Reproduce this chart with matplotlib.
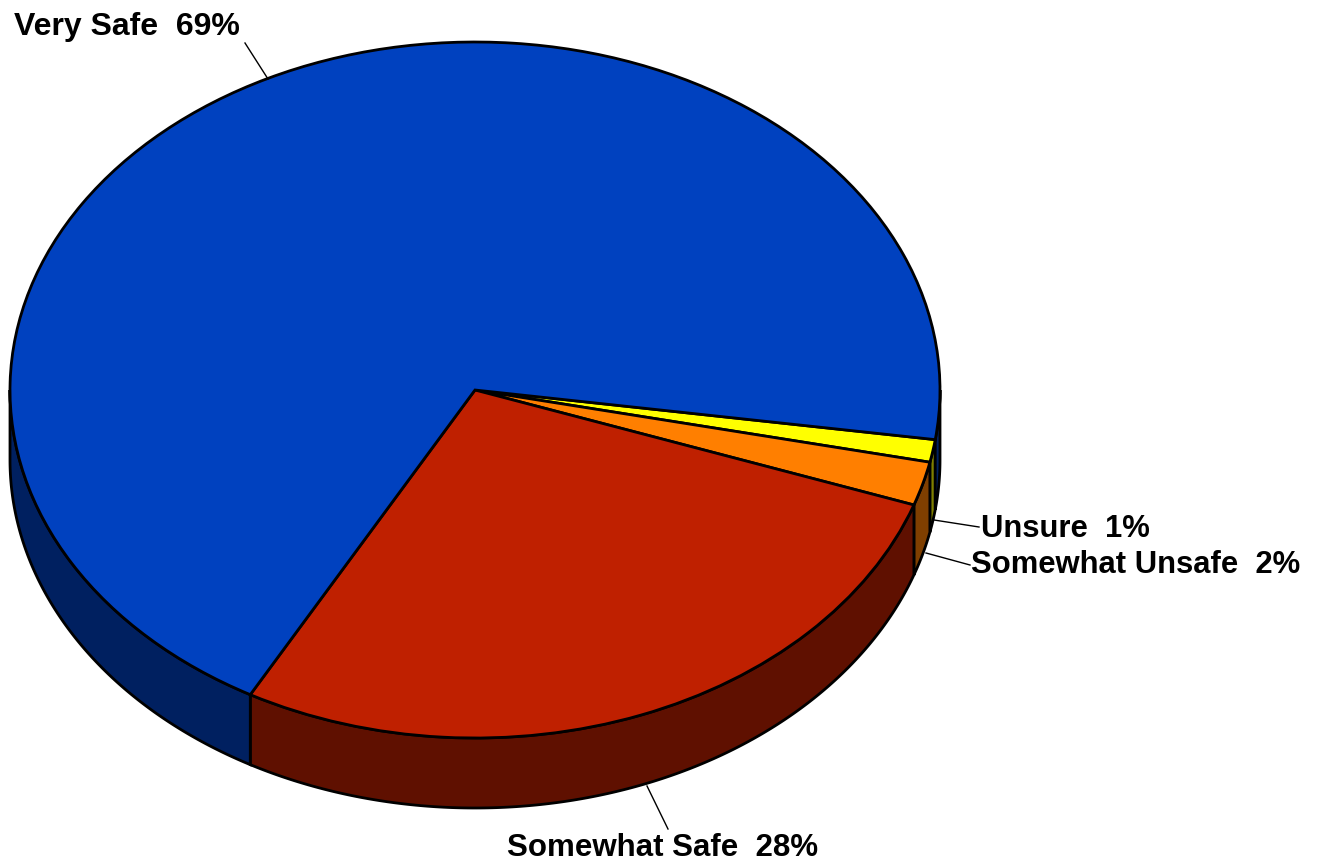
import numpy as np
import matplotlib
matplotlib.use("Agg")
import matplotlib.pyplot as plt
from matplotlib.patches import Polygon

categories = ["Unsure", "Somewhat Unsafe", "Somewhat Safe", "Very Safe"]
values = [1.05, 2.03, 27.67, 69.25]
top_colors = ["#FFFF00", "#FF7F00", "#BF2000", "#0041BF"]
side_colors = ["#7F7F00", "#7F3F00", "#5F1000", "#002060"]

W, H = 1317, 861
CX, CY, RX, RY, DEPTH = 475, 390, 465, 348, 70
START = -8.2
SY = RX / RY  # data units per pixel, vertically

fig = plt.figure(figsize=(W / 100, H / 100), dpi=100, facecolor="white")
ax = fig.add_axes([0, 0, 1, 1])


def Y(py):
    return (H - py) * SY


# side walls, drawn below the top face
angles = START - np.concatenate([[0], np.cumsum(values)]) * 3.6
for i in range(len(values)):
    hi, lo = angles[i], angles[i + 1]
    for a, b in ((0, -180), (-360, -540)):
        h, l = min(hi, a), max(lo, b)
        if h <= l:
            continue
        t = np.radians(np.linspace(h, l, 200))
        x = CX + RX * np.cos(t)
        y = Y(CY) + RX * np.sin(t)
        pts = np.r_[np.c_[x, y], np.c_[x[::-1], y[::-1] - DEPTH * SY]]
        ax.add_patch(Polygon(pts, closed=True, fc=side_colors[i], ec="black", lw=2, zorder=1))

ax.pie(values, colors=top_colors, startangle=START, counterclock=False,
       center=(CX, Y(CY)), radius=RX, frame=False,
       wedgeprops=dict(edgecolor="black", linewidth=2, zorder=2))

ax.set_aspect("auto")
ax.set_xlim(0, W)
ax.set_ylim(0, H * SY)
ax.axis("off")

labels = [
    (categories[3], values[3], 14, 27, 23.0, (245, 43), (268, 79)),
    (categories[2], values[2], 507, 848, 22.5, (668, 829), (647, 786)),
    (categories[1], values[1], 971, 565, 22.3, (970, 565), (926, 553)),
    (categories[0], values[0], 981, 529, 22.3, (979, 527), (934, 520)),
]
for name, val, px, py, fs, p0, p1 in labels:
    ax.plot([p0[0], p1[0]], [Y(p0[1]), Y(p1[1])], color="black", lw=1, zorder=3)
    ax.text(px, Y(py), f"{name}  {round(val)}%", ha="left", va="center", fontsize=fs,
            fontweight="bold", family="Liberation Sans", color="black", zorder=4)

fig.savefig("out.png", dpi=100, facecolor="white")
